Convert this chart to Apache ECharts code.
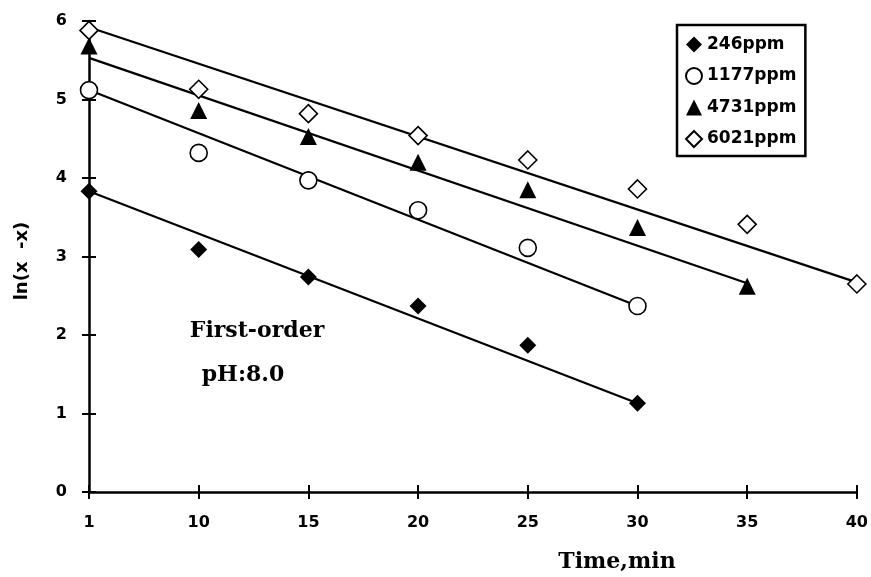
<!DOCTYPE html>
<html>
<head>
<meta charset="utf-8">
<script src="https://cdn.jsdelivr.net/npm/echarts@6/dist/echarts.min.js"></script>
<style>
  html, body { margin: 0; padding: 0; background: #fff; }
  #chart { width: 871px; height: 577px; }
</style>
</head>
<body>
<div id="chart"></div>
<script>
// Sampling times (min), equally spaced on the axis
const times = ['1', '10', '15', '20', '25', '30', '35', '40'];

// ln(x∞ - x) measured for each initial concentration
const c246 = [3.83, 3.09, 2.74, 2.37, 1.87, 1.13];
const c1177 = [5.12, 4.32, 3.97, 3.59, 3.11, 2.37];
const c4731 = [5.68, 4.86, 4.53, 4.20, 3.85, 3.37, 2.62];
const c6021 = [5.88, 5.13, 4.82, 4.54, 4.23, 3.86, 3.41, 2.65];

// First-order fit lines: value at the first and at the last sampling time
const fit246 = [3.83, 1.13];
const fit1177 = [5.12, 2.37];
const fit4731 = [5.53, 2.66];
const fit6021 = [5.92, 2.67];

const seriesNames = ['246ppm', '1177ppm', '4731ppm', '6021ppm'];

// Straight fit line spanning the same times as its points
function fitLine(fit, n) {
  const d = times.map(() => null);
  d[0] = fit[0];
  d[n - 1] = fit[1];
  return d;
}

const chart = echarts.init(document.getElementById('chart'));

const labelFont = { fontFamily: 'DejaVu Sans', fontWeight: 'bold', fontSize: 16, color: '#000' };
const serifText = { fontFamily: 'DejaVu Serif', fontWeight: 'bold', fontSize: 22, fill: '#000' };

function lineSeries(fit, n) {
  return {
    type: 'line',
    data: fitLine(fit, n),
    connectNulls: true,
    showSymbol: false,
    symbol: 'none',
    silent: true,
    lineStyle: { color: '#000', width: 2.2, opacity: 1 },
    z: 2
  };
}

chart.setOption({
  animation: false,
  backgroundColor: '#fff',
  grid: { left: 89, right: 11, top: 21, bottom: 85 },
  legend: {
    data: seriesNames,
    orient: 'vertical',
    left: 677,
    top: 25,
    padding: [11, 9, 8, 8],
    itemWidth: 16,
    itemHeight: 16,
    itemGap: 14,
    borderColor: '#000',
    borderWidth: 2.5,
    textStyle: { fontFamily: 'DejaVu Sans', fontWeight: 'bold', fontSize: 17, color: '#000' }
  },
  xAxis: [{
    type: 'category',
    data: times,
    boundaryGap: false,
    position: 'bottom',
    axisLine: { lineStyle: { color: '#000', width: 2.5 } },
    axisTick: { show: true, inside: false, length: 7, lineStyle: { color: '#000', width: 2 } },
    axisLabel: Object.assign({ margin: 23 }, labelFont),
    splitLine: { show: false }
  }, {
    type: 'category',
    data: times,
    boundaryGap: false,
    position: 'bottom',
    axisLine: { show: false },
    axisTick: { show: true, inside: true, length: 7, lineStyle: { color: '#000', width: 2 } },
    axisLabel: { show: false },
    splitLine: { show: false }
  }],
  yAxis: [{
    type: 'value',
    min: 0,
    max: 6,
    interval: 1,
    position: 'left',
    axisLine: { show: true, lineStyle: { color: '#000', width: 2.5 } },
    axisTick: { show: true, inside: false, length: 7, lineStyle: { color: '#000', width: 2 } },
    axisLabel: Object.assign({ margin: 22 }, labelFont),
    splitLine: { show: false }
  }, {
    type: 'value',
    min: 0,
    max: 6,
    interval: 1,
    position: 'left',
    axisLine: { show: false },
    axisTick: { show: true, inside: true, length: 7, lineStyle: { color: '#000', width: 2 } },
    axisLabel: { show: false },
    splitLine: { show: false }
  }],
  series: [
    lineSeries(fit246, c246.length),
    lineSeries(fit1177, c1177.length),
    lineSeries(fit4731, c4731.length),
    lineSeries(fit6021, c6021.length),
    {
      name: '246ppm', type: 'scatter', data: c246,
      symbol: 'diamond', symbolSize: 17,
      itemStyle: { color: '#000', opacity: 1 }, z: 5
    },
    {
      name: '1177ppm', type: 'scatter', data: c1177,
      symbol: 'circle', symbolSize: 17,
      itemStyle: { color: '#fff', borderColor: '#000', borderWidth: 1.6, opacity: 1 }, z: 5
    },
    {
      name: '4731ppm', type: 'scatter', data: c4731,
      symbol: 'triangle', symbolSize: 17,
      itemStyle: { color: '#000', opacity: 1 }, z: 5
    },
    {
      name: '6021ppm', type: 'scatter', data: c6021,
      symbol: 'diamond', symbolSize: 18,
      itemStyle: { color: '#fff', borderColor: '#000', borderWidth: 1.6, opacity: 1 }, z: 5
    }
  ],
  graphic: [
    {
      type: 'text', x: 22, y: 261, rotation: Math.PI / 2,
      style: { text: 'ln(x  -x)', fontFamily: 'DejaVu Sans', fontWeight: 'bold', fontSize: 18,
               fill: '#000', textAlign: 'center', textVerticalAlign: 'middle' }
    },
    {
      type: 'text', x: 257, y: 331,
      style: Object.assign({ text: 'First-order', textAlign: 'center', textVerticalAlign: 'middle' }, serifText)
    },
    {
      type: 'text', x: 243, y: 375,
      style: Object.assign({ text: 'pH:8.0', textAlign: 'center', textVerticalAlign: 'middle' }, serifText)
    },
    {
      type: 'text', x: 617, y: 562,
      style: Object.assign({ text: 'Time,min', textAlign: 'center', textVerticalAlign: 'middle' }, serifText)
    }
  ]
});
</script>
</body>
</html>
